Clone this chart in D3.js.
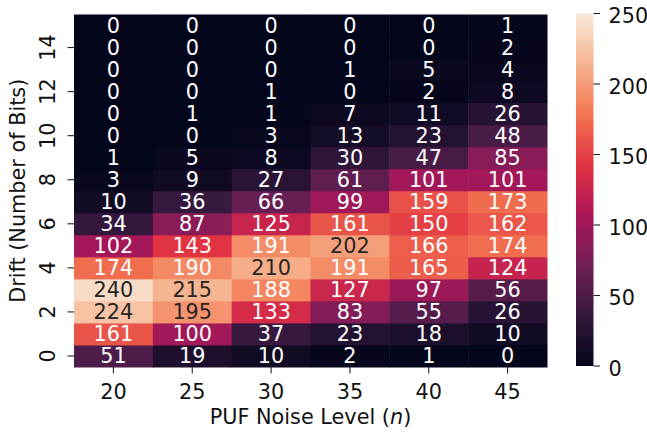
<!DOCTYPE html>
<html><head><meta charset="utf-8">
<script src="https://cdn.jsdelivr.net/npm/d3@7"></script>
<style>body{margin:0;background:#fff}svg{display:block}text{font-family:"DejaVu Sans",sans-serif}</style>
</head><body>
<svg id="c" width="647" height="433"></svg>
<script>
const noiseLevels = [20, 25, 30, 35, 40, 45];
const driftBits = d3.range(0, 16);
// rows listed from drift 0 (bottom) upward to drift 15
const counts = [
  [51, 19, 10, 2, 1, 0],
  [161, 100, 37, 23, 18, 10],
  [224, 195, 133, 83, 55, 26],
  [240, 215, 188, 127, 97, 56],
  [174, 190, 210, 191, 165, 124],
  [102, 143, 191, 202, 166, 174],
  [34, 87, 125, 161, 150, 162],
  [10, 36, 66, 99, 159, 173],
  [3, 9, 27, 61, 101, 101],
  [1, 5, 8, 30, 47, 85],
  [0, 0, 3, 13, 23, 48],
  [0, 1, 1, 7, 11, 26],
  [0, 0, 1, 0, 2, 8],
  [0, 0, 0, 1, 5, 4],
  [0, 0, 0, 0, 0, 2],
  [0, 0, 0, 0, 0, 1]
];
const yTickLabels = [0, 2, 4, 6, 8, 10, 12, 14];
const cbarTicks = [0, 50, 100, 150, 200, 250];
const colorDomain = [0, 250];

const rocketStops = ["#03051a", "#35193e", "#701f57", "#ad1759", "#e13342", "#f37651", "#f6b48f", "#faebdd"];
const rocket = d3.scaleLinear()
  .domain(rocketStops.map((_, i) => i / (rocketStops.length - 1)))
  .range(rocketStops).interpolate(d3.interpolateRgb).clamp(true);

const svg = d3.select("#c");
const L = 74, R = 547, T = 14.5, B = 367;
const x = d3.scaleBand().domain(noiseLevels).range([L, R]);
const y = d3.scaleBand().domain(driftBits).range([B, T]);
const cnorm = d3.scaleLinear().domain(colorDomain).range([0, 1]);
const col = v => rocket(cnorm(v));

function lum(c) {
  const rgb = d3.rgb(c);
  const f = v => { v /= 255; return v <= 0.03928 ? v / 12.92 : Math.pow((v + 0.055) / 1.055, 2.4); };
  return 0.2126 * f(rgb.r) + 0.7152 * f(rgb.g) + 0.0722 * f(rgb.b);
}

const cells = [];
counts.forEach((row, ri) => row.forEach((v, ci) => cells.push({ drift: driftBits[ri], n: noiseLevels[ci], v })));

svg.append("g").selectAll("rect").data(cells).join("rect")
  .attr("x", d => x(d.n)).attr("y", d => y(d.drift))
  .attr("width", x.bandwidth() + 0.5).attr("height", y.bandwidth() + 0.5)
  .attr("fill", d => col(d.v));

const fs = 20.8;
svg.append("g").selectAll("text").data(cells).join("text")
  .attr("x", d => x(d.n) + x.bandwidth() / 2)
  .attr("y", d => y(d.drift) + y.bandwidth() / 2 + 7.2)
  .attr("text-anchor", "middle").attr("font-size", fs)
  .attr("fill", d => lum(col(d.v)) > 0.408 ? "#262626" : "#ffffff")
  .text(d => d.v);

// x axis
const gx = svg.append("g");
noiseLevels.forEach(n => {
  const cx = x(n) + x.bandwidth() / 2;
  gx.append("line").attr("x1", cx).attr("x2", cx).attr("y1", B).attr("y2", B + 6.5).attr("stroke", "#222").attr("stroke-width", 1.1);
  gx.append("text").attr("x", cx).attr("y", 398.5).attr("text-anchor", "middle").attr("font-size", fs).attr("fill", "#111").text(n);
});
const xl = svg.append("text").attr("x", (L + R) / 2).attr("y", 424).attr("text-anchor", "middle").attr("font-size", fs).attr("fill", "#111");
xl.append("tspan").text("PUF Noise Level (");
xl.append("tspan").attr("font-style", "italic").text("n");
xl.append("tspan").text(")");

// y axis
const gy = svg.append("g");
yTickLabels.forEach(d => {
  const cy = y(d) + y.bandwidth() / 2;
  gy.append("line").attr("x1", L - 6.5).attr("x2", L).attr("y1", cy).attr("y2", cy).attr("stroke", "#222").attr("stroke-width", 1.1);
  gy.append("text").attr("transform", `translate(55,${cy}) rotate(-90)`).attr("text-anchor", "middle").attr("font-size", fs).attr("fill", "#111").text(d);
});
svg.append("text").attr("transform", `translate(25,${(T + B) / 2}) rotate(-90)`).attr("text-anchor", "middle").attr("font-size", fs).attr("fill", "#111").text("Drift (Number of Bits)");

// colorbar
const cbL = 576, cbW = 17.5, cbT = 13.5, cbB = 366;
const defs = svg.append("defs");
const grad = defs.append("linearGradient").attr("id", "cbg").attr("x1", 0).attr("y1", 1).attr("x2", 0).attr("y2", 0);
d3.range(0, 1.0001, 0.02).forEach(t => grad.append("stop").attr("offset", t).attr("stop-color", rocket(t)));
svg.append("rect").attr("x", cbL).attr("y", cbT).attr("width", cbW).attr("height", cbB - cbT).attr("fill", "url(#cbg)");
const cy = d3.scaleLinear().domain(colorDomain).range([cbB, cbT]);
cbarTicks.forEach(t => {
  svg.append("line").attr("x1", cbL + cbW).attr("x2", cbL + cbW + 6.5).attr("y1", cy(t)).attr("y2", cy(t)).attr("stroke", "#222").attr("stroke-width", 1.1);
  svg.append("text").attr("x", 608.5).attr("y", cy(t) + 9.5).attr("font-size", fs).attr("fill", "#111").text(t);
});
</script>
</body></html>
